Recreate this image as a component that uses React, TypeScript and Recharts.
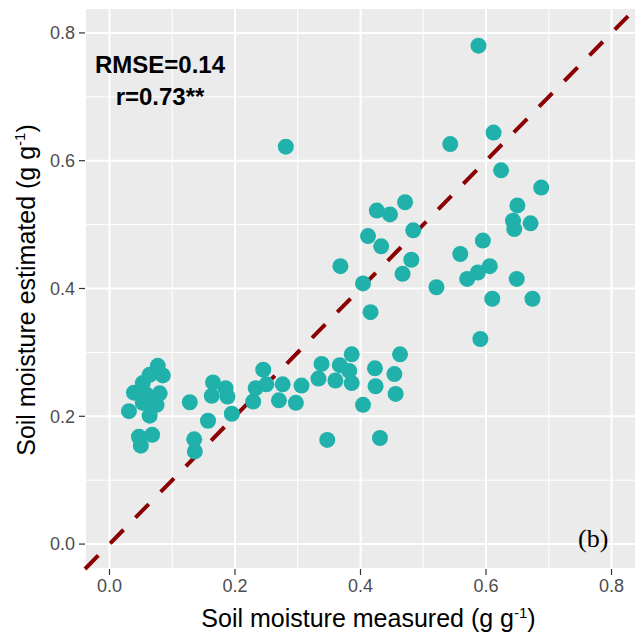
import { ScatterChart, Scatter, XAxis, YAxis, CartesianGrid, ReferenceLine } from 'recharts';

const measured = [
  0.588, 0.612, 0.543, 0.281, 0.624, 0.688, 0.65, 0.643, 0.645, 0.671, 0.426, 0.447, 0.471, 0.484, 0.412, 0.433,
  0.481, 0.467, 0.368, 0.404, 0.416, 0.521, 0.559, 0.595, 0.57, 0.587, 0.606, 0.649, 0.61, 0.674, 0.591,
  0.386, 0.463, 0.338, 0.367, 0.382, 0.423, 0.454, 0.333, 0.36, 0.386, 0.424, 0.456, 0.404, 0.347, 0.431,
  0.245, 0.233, 0.229, 0.25, 0.27, 0.276, 0.297, 0.306,
  0.128, 0.165, 0.185, 0.163, 0.188, 0.195, 0.157, 0.135, 0.136,
  0.077, 0.085, 0.064, 0.053, 0.039, 0.08, 0.059, 0.075, 0.053, 0.031, 0.064, 0.047, 0.068, 0.05,
];
const estimated = [
  0.78, 0.644, 0.626, 0.622, 0.585, 0.558, 0.53, 0.506, 0.493, 0.502, 0.522, 0.516, 0.535, 0.491, 0.482, 0.466,
  0.445, 0.423, 0.435, 0.408, 0.363, 0.402, 0.454, 0.475, 0.415, 0.425, 0.435, 0.415, 0.384, 0.384, 0.321,
  0.297, 0.297, 0.282, 0.28, 0.271, 0.275, 0.266, 0.259, 0.256, 0.252, 0.247, 0.235, 0.218, 0.163, 0.166,
  0.273, 0.244, 0.223, 0.25, 0.225, 0.25, 0.221, 0.248,
  0.222, 0.253, 0.244, 0.232, 0.231, 0.204, 0.193, 0.164, 0.145,
  0.279, 0.264, 0.265, 0.252, 0.237, 0.236, 0.234, 0.218, 0.221, 0.208, 0.201, 0.168, 0.171, 0.154,
];
const majorTicks = [0, 0.2, 0.4, 0.6, 0.8];
const minorTicks = [0.1, 0.3, 0.5, 0.7];
const domain: [number, number] = [-0.039, 0.839];

const points = measured.map((x, i) => ({ x, y: estimated[i] }));

const font = '"Liberation Sans", Arial, sans-serif';

const Dot = (p: any) => <circle cx={p.cx} cy={p.cy} r={8} fill="#20B2AA" />;

const sup = { fontSize: 15, verticalAlign: 'super', lineHeight: 0 } as const;

export default function App() {
  return (
    <div style={{ position: 'absolute', left: 0, top: 0, width: 636, height: 636, background: '#fff', fontFamily: font }}>
      <ScatterChart width={636} height={636} margin={{ top: 8, right: 0, bottom: 0, left: 0 }}>
        <CartesianGrid fill="#EBEBEB" stroke="#fff" strokeWidth={2} />
        {minorTicks.map((v) => (
          <ReferenceLine key={'mx' + v} x={v} stroke="#fff" strokeWidth={1} />
        ))}
        {minorTicks.map((v) => (
          <ReferenceLine key={'my' + v} y={v} stroke="#fff" strokeWidth={1} />
        ))}
        <XAxis
          type="number"
          dataKey="x"
          domain={domain}
          ticks={majorTicks}
          allowDataOverflow
          height={67}
          axisLine={false}
          tickSize={6}
          tickMargin={4}
          tickLine={{ stroke: '#333', strokeWidth: 1.2 }}
          tick={{ fill: '#4D4D4D', fontSize: 18, fontFamily: font }}
          tickFormatter={(v: number) => v.toFixed(1)}
        />
        <YAxis
          type="number"
          dataKey="y"
          domain={domain}
          ticks={majorTicks}
          allowDataOverflow
          width={85}
          axisLine={false}
          tickSize={6}
          tickMargin={4}
          tickLine={{ stroke: '#333', strokeWidth: 1.2 }}
          tick={{ fill: '#4D4D4D', fontSize: 18, fontFamily: font }}
          tickFormatter={(v: number) => v.toFixed(1)}
        />
        <ReferenceLine
          segment={[{ x: domain[0], y: domain[0] }, { x: domain[1], y: domain[1] }]}
          stroke="#8B0000"
          strokeWidth={4}
          strokeDasharray="19 17"
        />
        <Scatter data={points} shape={Dot} isAnimationActive={false} />
      </ScatterChart>
      <div style={{ position: 'absolute', left: 60, top: 49, width: 200, textAlign: 'center', fontSize: 24, lineHeight: '32px', fontWeight: 'bold', color: '#000' }}>
        <div>RMSE=0.14</div>
        <div>r=0.73**</div>
      </div>
      <div style={{ position: 'absolute', left: 578, top: 526, lineHeight: '26px', fontFamily: '"Liberation Serif", "Times New Roman", serif', fontSize: 26 }}>(b)</div>
      <div style={{ position: 'absolute', left: 93, width: 551, top: 606, lineHeight: '25px', textAlign: 'center', fontSize: 25, color: '#000' }}>
        Soil moisture measured (g g<span style={sup}>-1</span>)
      </div>
      <div
        style={{
          position: 'absolute',
          left: 26,
          top: 290,
          lineHeight: '25px',
          fontSize: 25,
          transform: 'translate(-50%, -50%) rotate(-90deg)',
          whiteSpace: 'nowrap',
        }}
      >
        Soil moisture estimated (g g<span style={sup}>-1</span>)
      </div>
    </div>
  );
}
